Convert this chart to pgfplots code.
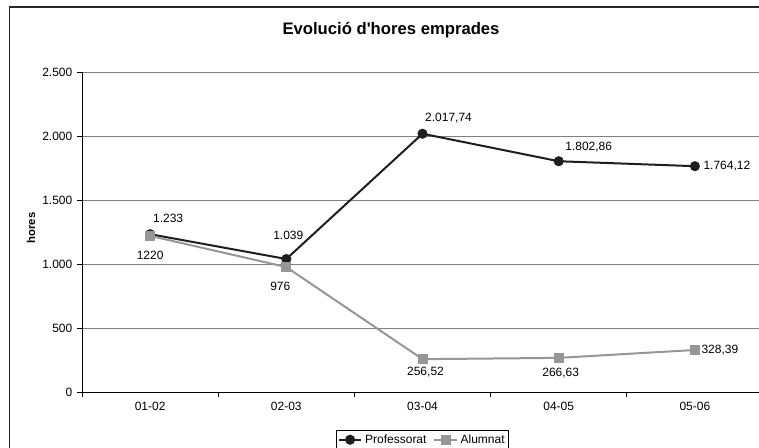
\documentclass[border=0pt]{standalone}
\usepackage{pgfplots}
\pgfplotsset{compat=1.18}
\usepackage{pgfplotstable}
\usepackage{fontspec}
\setmainfont{Liberation Sans}

\definecolor{profc}{HTML}{1E1E1E}
\definecolor{alumc}{HTML}{969696}
\definecolor{gridc}{HTML}{808080}

% dx, dy: label offset in px (dy up)
\pgfplotstableread{
x y label dx dy
0 1233 1.233 18 16
1 1039 1.039 2 24
2 2017.74 2.017,74 26 16
3 1802.86 1.802,86 30 14
4 1764.12 1.764,12 32 0
}\profdata

\pgfplotstableread{
x y label dx dy
0 1220 1220 0 -20
1 976 976 -6 -19
2 256.52 256,52 3 -13
3 266.63 266,63 2 -15
4 328.39 328,39 25 0
}\alumdata

\begin{document}
\begin{tikzpicture}
\useasboundingbox (0,0) rectangle (569.25pt,335.25pt);
\clip (0,0) rectangle (569.25pt,335.25pt);
\draw[line width=1.1pt, black!85] (7.1pt,330pt) rectangle (620pt,-20pt);
\node[font=\bfseries\fontsize{12.5}{14}\selectfont] at (293.25pt,312.75pt) {Evolució d\textquotesingle hores emprades};
\begin{axis}[
  at={(61.5pt,41.25pt)}, anchor=south west,
  scale only axis, width=510.75pt, height=240pt,
  xmin=-0.5, xmax=4.5, ymin=0, ymax=2500,
  clip=false,
  axis x line=bottom, axis y line=left,
  axis line style={-, black, line width=0.75pt},
  xtick={0,1,2,3,4},
  xticklabels={01-02,02-03,03-04,04-05,05-06},
  minor xtick={-0.5,0.5,1.5,2.5,3.5,4.5},
  major x tick style={draw=none},
  ytick={0,500,...,2500},
  tick align=outside,
  major tick length=3.75pt, minor tick length=3.75pt,
  tick style={black, line width=0.75pt},
  ymajorgrids,
  grid style={gridc, line width=0.75pt},
  /pgf/number format/.cd, 1000 sep={.}, assume math mode=true, /pgfplots/.cd,
  tick label style={font=\fontsize{9}{10}\selectfont},
  ylabel={hores},
  ylabel style={font=\bfseries\fontsize{8.5}{10}\selectfont, at={(axis description cs:-0.0749,0.5125)}, anchor=center},
  legend style={at={(0.5,-0.11875)}, anchor=north, legend columns=2, draw=black, line width=0.6pt,
    font=\fontsize{9}{10}\selectfont, inner sep=1pt,
    /tikz/every even column/.append style={column sep=3pt}},
  point meta=explicit symbolic,
  nodes near coords,
  visualization depends on={\thisrow{dx}\as\dx},
  visualization depends on={\thisrow{dy}\as\dy},
  every node near coord/.append style={anchor=center, xshift={\dx*0.75pt}, yshift={\dy*0.75pt},
    font=\fontsize{9}{10}\selectfont, text=black, inner sep=0pt},
]
\addplot[profc, line width=1.5pt, mark=*, mark size=3pt, mark options={fill=profc, draw=profc}]
  table[x=x, y=y, meta=label] {\profdata};
\addplot[alumc, line width=1.5pt, mark=square*, mark size=3pt, mark options={fill=alumc, draw=alumc}]
  table[x=x, y=y, meta=label] {\alumdata};
\legend{Professorat, Alumnat}
\end{axis}
\end{tikzpicture}
\end{document}
